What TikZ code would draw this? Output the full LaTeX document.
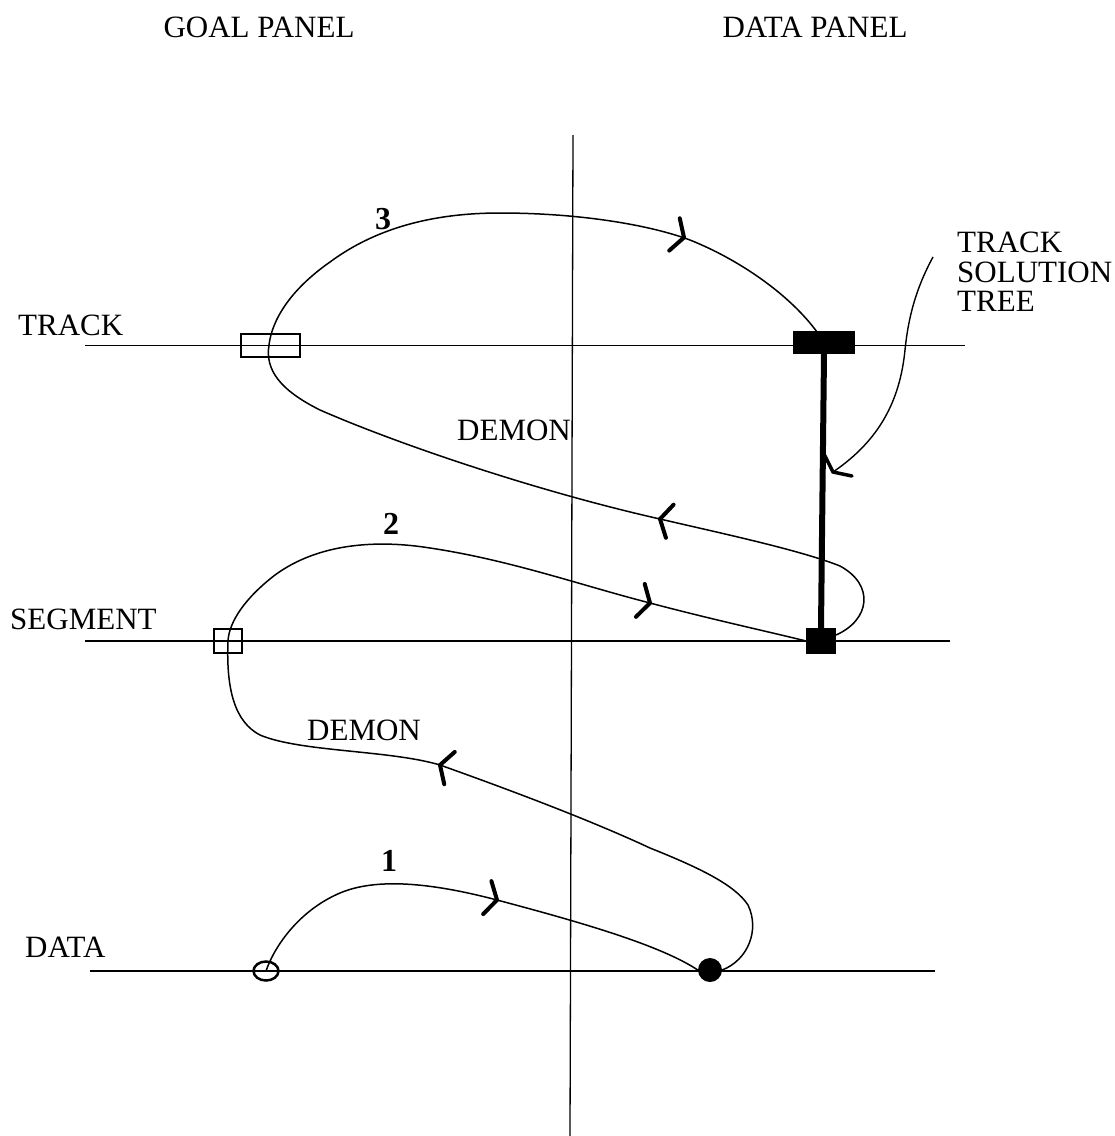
\documentclass[tikz,border=0pt]{standalone}
\usepackage{fontspec}
\setmainfont{Liberation Serif}
\usetikzlibrary{shapes.geometric}

\tikzset{
  lbl/.style={inner sep=0pt, anchor=base west, font=\fontsize{31}{31}\selectfont},
  num/.style={inner sep=0pt, anchor=base, font=\fontsize{32}{32}\selectfont\bfseries},
  level/.style={line width=1.3pt},
  axis/.style={line width=1.3pt},
  flow/.style={line width=1.5pt},
  goalbox/.style={draw, line width=2pt, rectangle, inner sep=0pt},
  databox/.style={draw, fill=black, line width=1pt, rectangle, inner sep=0pt},
  treeline/.style={line width=6pt},
  pics/chev/.style={code={\draw[line width=4pt, line cap=round] (-10pt,17pt) -- (0pt,0pt) -- (-10pt,-17pt);}}
}

\begin{document}
\begin{tikzpicture}[x=1pt, y=-1pt]
\useasboundingbox (0,0) rectangle (1115,1136);
\fill[white] (0,0) rectangle (1115,1136);

% panel titles
\node[lbl, anchor=base] (tgoal) at (259,37) {GOAL PANEL};
\node[lbl, anchor=base] (tdata) at (815,37) {DATA PANEL};

% divider between the panels
\coordinate (vtop) at (573,135);
\coordinate (vbot) at (570,1136);
\draw[axis] (vtop) -- (vbot);

% level lines
\coordinate (trL) at (85,345.5);  \coordinate (trR) at (965,345.5);
\coordinate (sgL) at (85,641);    \coordinate (sgR) at (950,641);
\coordinate (daL) at (90,971);    \coordinate (daR) at (935,971);
\draw[level] (trL) -- (trR);
\draw[level] (sgL) -- (sgR);
\draw[level] (daL) -- (daR);

\node[lbl] (ltrack) at (18,335) {TRACK};
\node[lbl] (lseg) at (10,629) {SEGMENT};
\node[lbl] (ldata) at (25,957) {DATA};

% goal-panel markers
\node[goalbox, minimum width=59pt, minimum height=23pt] (gt) at (270.5,345.5) {};
\node[goalbox, minimum width=28pt, minimum height=24pt] (gs) at (228,641) {};
\node[draw, ellipse, line width=2.5pt, inner sep=0pt, minimum width=25pt, minimum height=19pt] (gd) at (266,971) {};

% data-panel markers
\node[databox, minimum width=61pt, minimum height=22pt] (dt) at (824,342.5) {};
\node[databox, minimum width=29pt, minimum height=25pt] (ds) at (821,641) {};
\node[circle, fill=black, inner sep=0pt, minimum size=24pt] (dd) at (710,970) {};
\coordinate (dtin) at (817,332);
\coordinate (dsout) at (836,635);

% track solution tree
\draw[treeline] (dt.south) -- (ds.north);

% level 1: data goal -> data
\draw[flow] (gd.center)
  .. controls (275,945) and (300,910) .. (340,893)
  .. controls (380,876) and (440,885) .. (497,900)
  .. controls (580,922) and (660,945) .. (dd.west);
\pic[rotate=-14] at (497,900) {chev};

% demon: data -> segment goal -> segment data
\draw[flow] (dd.east)
  .. controls (748,960) and (760,930) .. (748,905)
  .. controls (735,885) and (700,868) .. (650,848)
  .. controls (590,820) and (510,790) .. (440,765)
  .. controls (390,750) and (300,752) .. (260,735)
  .. controls (235,722) and (226,690) .. (gs.center)
  .. controls (229,622) and (245,598) .. (275,575)
  .. controls (320,542) and (380,540) .. (430,548)
  .. controls (510,560) and (580,585) .. (650,603)
  .. controls (710,619) and (770,632) .. (ds.west);
\pic[rotate=162] at (440,765) {chev};
\pic[rotate=-15] at (650,603) {chev};

% demon: segment data -> track goal -> track data
\draw[flow] (dsout)
  .. controls (870,620) and (875,585) .. (840,566)
  .. controls (800,550) and (720,533) .. (660,519)
  .. controls (540,492) and (400,445) .. (320,410)
  .. controls (280,390) and (265,370) .. (269,345)
  .. controls (272,320) and (290,290) .. (330,262)
  .. controls (380,225) and (440,213) .. (500,213)
  .. controls (580,213) and (650,225) .. (690,240)
  .. controls (740,260) and (790,295) .. (dtin);
\pic[rotate=167] at (660,519) {chev};
\pic[rotate=-18] at (684,237.5) {chev};

\node[num] (n3) at (383,229) {3};
\node[num] (n2) at (391,534) {2};
\node[num] (n1) at (389,871) {1};

\node[lbl] (dem1) at (457,440) {DEMON};
\node[lbl] (dem2) at (307,740) {DEMON};

% tree label and its leader
\node[lbl, align=left, anchor=north west, font=\fontsize{31}{29.5}\selectfont] (tlab) at (957,232) {TRACK\\SOLUTION\\TREE};
\coordinate (lstart) at (933,257);
\coordinate (ltip) at (833,472);
\draw[line width=1.4pt] (lstart)
  .. controls (915,290) and (908,320) .. (905,350)
  .. controls (900,400) and (880,440) .. (ltip);
\draw[line width=3.5pt, line cap=round] (824,454) -- (ltip) -- (852,476);
\end{tikzpicture}
\end{document}
